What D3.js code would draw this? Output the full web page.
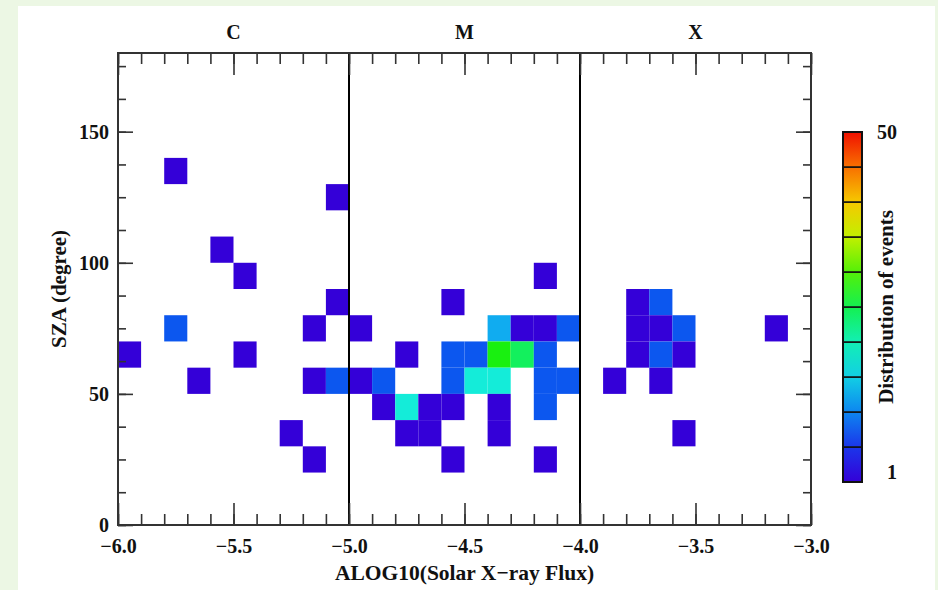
<!DOCTYPE html>
<meta charset="utf-8">
<style>
    body { margin: 0; background: #ecf7e4; }
    text {
        font-family: "Liberation Serif", "Times New Roman", serif;
        font-weight: bold;
        fill: #111;
    }
    .axis path { stroke: #333; stroke-width: 2; }
    .axis line { stroke: #333; stroke-width: 1.6; }
    .axis text { font-size: 20px; }
</style>

<svg width="938" height="590"></svg>

<script src="https://d3js.org/d3.v7.min.js"></script>

<script>
    // cells: left edge of the flux bin, lower edge of the SZA bin, number of events
    var fluxBin = [-5.8, -5.1, -5.6, -5.5, -5.1, -5.8, -5.2, -6.0, -5.5, -5.7, -5.2, -5.1, -5.3, -5.2,
                   -5.0, -5.0, -4.2, -4.6, -4.4, -4.3, -4.2, -4.1, -4.8, -4.6, -4.5, -4.4, -4.3, -4.2,
                   -4.9, -4.6, -4.5, -4.4, -4.2, -4.1, -4.9, -4.8, -4.7, -4.6, -4.4, -4.2, -4.8, -4.7,
                   -4.4, -4.6, -4.2,
                   -3.8, -3.7, -3.8, -3.7, -3.6, -3.2, -3.8, -3.7, -3.6, -3.9, -3.7, -3.6];
    var szaBin  = [130, 120, 100, 90, 80, 70, 70, 60, 60, 50, 50, 50, 30, 20,
                   70, 50, 90, 80, 70, 70, 70, 70, 60, 60, 60, 60, 60, 60,
                   50, 50, 50, 50, 50, 50, 40, 40, 40, 40, 40, 40, 30, 30,
                   30, 20, 20,
                   80, 80, 70, 70, 70, 70, 60, 60, 60, 50, 50, 30];
    var events  = [1, 1, 1, 1, 1, 8, 1, 1, 1, 1, 1, 8, 1, 1,
                   1, 1, 1, 1, 13, 1, 1, 8, 1, 8, 8, 28, 25, 8,
                   8, 8, 18, 18, 8, 8, 1, 18, 1, 1, 1, 8, 1, 1,
                   1, 1, 1,
                   1, 8, 1, 1, 8, 1, 1, 8, 1, 1, 1, 1];

    var classNames = ["C", "M", "X"];
    var classStart = [-6.0, -5.0, -4.0];
    var classBounds = [-5.0, -4.0];

    var xTicks = [-6.0, -5.5, -5.0, -4.5, -4.0, -3.5, -3.0];
    var yTicks = [0, 50, 100, 150];
    var countRange = [1, 50];
    var nLevels = 10;

    var svg = d3.select("svg");

    // white panel on the pale green page
    svg.append("rect").attr("x", 18).attr("y", 6).attr("width", 917).attr("height", 584).attr("fill", "#fff");

    var x = d3.scaleLinear().domain([-6, -3]).range([118, 811]);
    var y = d3.scaleLinear().domain([0, 180]).range([525, 53]);

    // rainbow-like colour table, stops at the middle of each colour bar block
    var t = d3.scaleLinear().domain(countRange).range([0, 1]);
    var color = d3.scaleLinear()
            .domain([0, 0.05, 0.15, 0.25, 0.35, 0.45, 0.55, 0.65, 0.75, 0.85, 0.95, 1])
            .range(["#3400d8", "#2c10e4", "#0a5cf0", "#10b0f0", "#14eed8", "#10f090",
                    "#18f010", "#90f000", "#f4f000", "#f8a000", "#f84000", "#f01000"])
            .interpolate(d3.interpolateRgb);

    var cells = fluxBin.map(function (f, i) {
        return {flux: f, sza: szaBin[i], n: events[i]};
    });

    svg.append("g").selectAll("rect")
            .data(cells)
            .enter().append("rect")
            .attr("x", function (d) { return x(d.flux); })
            .attr("y", function (d) { return y(d.sza + 10); })
            .attr("width", function (d) { return x(d.flux + 0.1) - x(d.flux); })
            .attr("height", function (d) { return y(d.sza) - y(d.sza + 10); })
            .attr("fill", function (d) { return color(t(d.n)); });

    // class boundaries
    svg.append("g").selectAll("line")
            .data(classBounds)
            .enter().append("line")
            .attr("x1", function (d) { return x(d); })
            .attr("x2", function (d) { return x(d); })
            .attr("y1", y(180))
            .attr("y2", y(0))
            .attr("stroke", "#000")
            .attr("stroke-width", 2);

    svg.selectAll(".cls")
            .data(classNames)
            .enter().append("text")
            .attr("class", "cls")
            .attr("x", function (d, i) { return x(classStart[i] + 0.5); })
            .attr("y", 39)
            .attr("text-anchor", "middle")
            .style("font-size", "20px")
            .text(function (d) { return d; });

    // axes, ticks pointing inwards
    var fmt = d3.format(".1f");
    var minorX = d3.range(-60, -29).map(function (v) { return v / 10; });
    var minorY = d3.range(0, 181, 12.5);

    function addAxis(axis, tx, ty, labels) {
        var g = svg.append("g").attr("class", "axis").attr("transform", "translate(" + tx + "," + ty + ")").call(axis);
        if (!labels) g.selectAll("text").remove();
        return g;
    }

    addAxis(d3.axisBottom(x).tickValues(minorX).tickSize(-11).tickFormat(""), 0, y(0), false);
    addAxis(d3.axisBottom(x).tickValues(xTicks).tickSize(-22).tickPadding(14).tickFormat(fmt), 0, y(0), true);
    addAxis(d3.axisTop(x).tickValues(minorX).tickSize(-11), 0, y(180), false);
    addAxis(d3.axisTop(x).tickValues(xTicks).tickSize(-22), 0, y(180), false);
    addAxis(d3.axisLeft(y).tickValues(minorY).tickSize(-8).tickFormat(""), x(-6), 0, false);
    addAxis(d3.axisLeft(y).tickValues(yTicks).tickSize(-15).tickPadding(9), x(-6), 0, true);
    addAxis(d3.axisRight(y).tickValues(minorY).tickSize(-8), x(-3), 0, false);
    addAxis(d3.axisRight(y).tickValues(yTicks).tickSize(-15), x(-3), 0, false);

    svg.selectAll(".axis .domain").attr("d", null);
    svg.append("rect")
            .attr("x", x(-6)).attr("y", y(180))
            .attr("width", x(-3) - x(-6)).attr("height", y(0) - y(180))
            .attr("fill", "none").attr("stroke", "#333").attr("stroke-width", 2);

    svg.append("text")
            .attr("x", (x(-6) + x(-3)) / 2)
            .attr("y", 580)
            .attr("text-anchor", "middle")
            .style("font-size", "21.5px")
            .text("ALOG10(Solar X\u2212ray Flux)");

    svg.append("text")
            .attr("transform", "translate(66," + y(90) + ") rotate(-90)")
            .attr("text-anchor", "middle")
            .style("font-size", "21px")
            .text("SZA (degree)");

    // colour bar
    var cb = d3.scaleLinear().domain(countRange).range([482, 132]);
    var step = (countRange[1] - countRange[0]) / nLevels;
    var levels = d3.range(nLevels).map(function (i) { return countRange[0] + i * step; });

    var defs = svg.append("defs");
    levels.forEach(function (v, i) {
        var grad = defs.append("linearGradient")
                .attr("id", "lev" + i)
                .attr("x1", 0).attr("y1", 1).attr("x2", 0).attr("y2", 0);
        grad.append("stop").attr("offset", 0).attr("stop-color", color(t(v)));
        grad.append("stop").attr("offset", 1).attr("stop-color", color(t(v + step)));
    });

    svg.append("g").selectAll("rect")
            .data(levels)
            .enter().append("rect")
            .attr("x", 843)
            .attr("width", 19)
            .attr("y", function (d) { return cb(d + step); })
            .attr("height", function (d) { return cb(d) - cb(d + step); })
            .attr("fill", function (d, i) { return "url(#lev" + i + ")"; })
            .attr("stroke", "#111")
            .attr("stroke-width", 1.5);

    svg.append("rect")
            .attr("x", 843).attr("y", cb(countRange[1]))
            .attr("width", 19).attr("height", cb(countRange[0]) - cb(countRange[1]))
            .attr("fill", "none").attr("stroke", "#111").attr("stroke-width", 2);

    svg.append("text").attr("x", 897).attr("y", 139).attr("text-anchor", "end")
            .style("font-size", "20px").text(countRange[1]);
    svg.append("text").attr("x", 897).attr("y", 479).attr("text-anchor", "end")
            .style("font-size", "20px").text(countRange[0]);

    svg.append("text")
            .attr("transform", "translate(893,307) rotate(-90)")
            .attr("text-anchor", "middle")
            .style("font-size", "21px")
            .text("Distribution of events");
</script>
